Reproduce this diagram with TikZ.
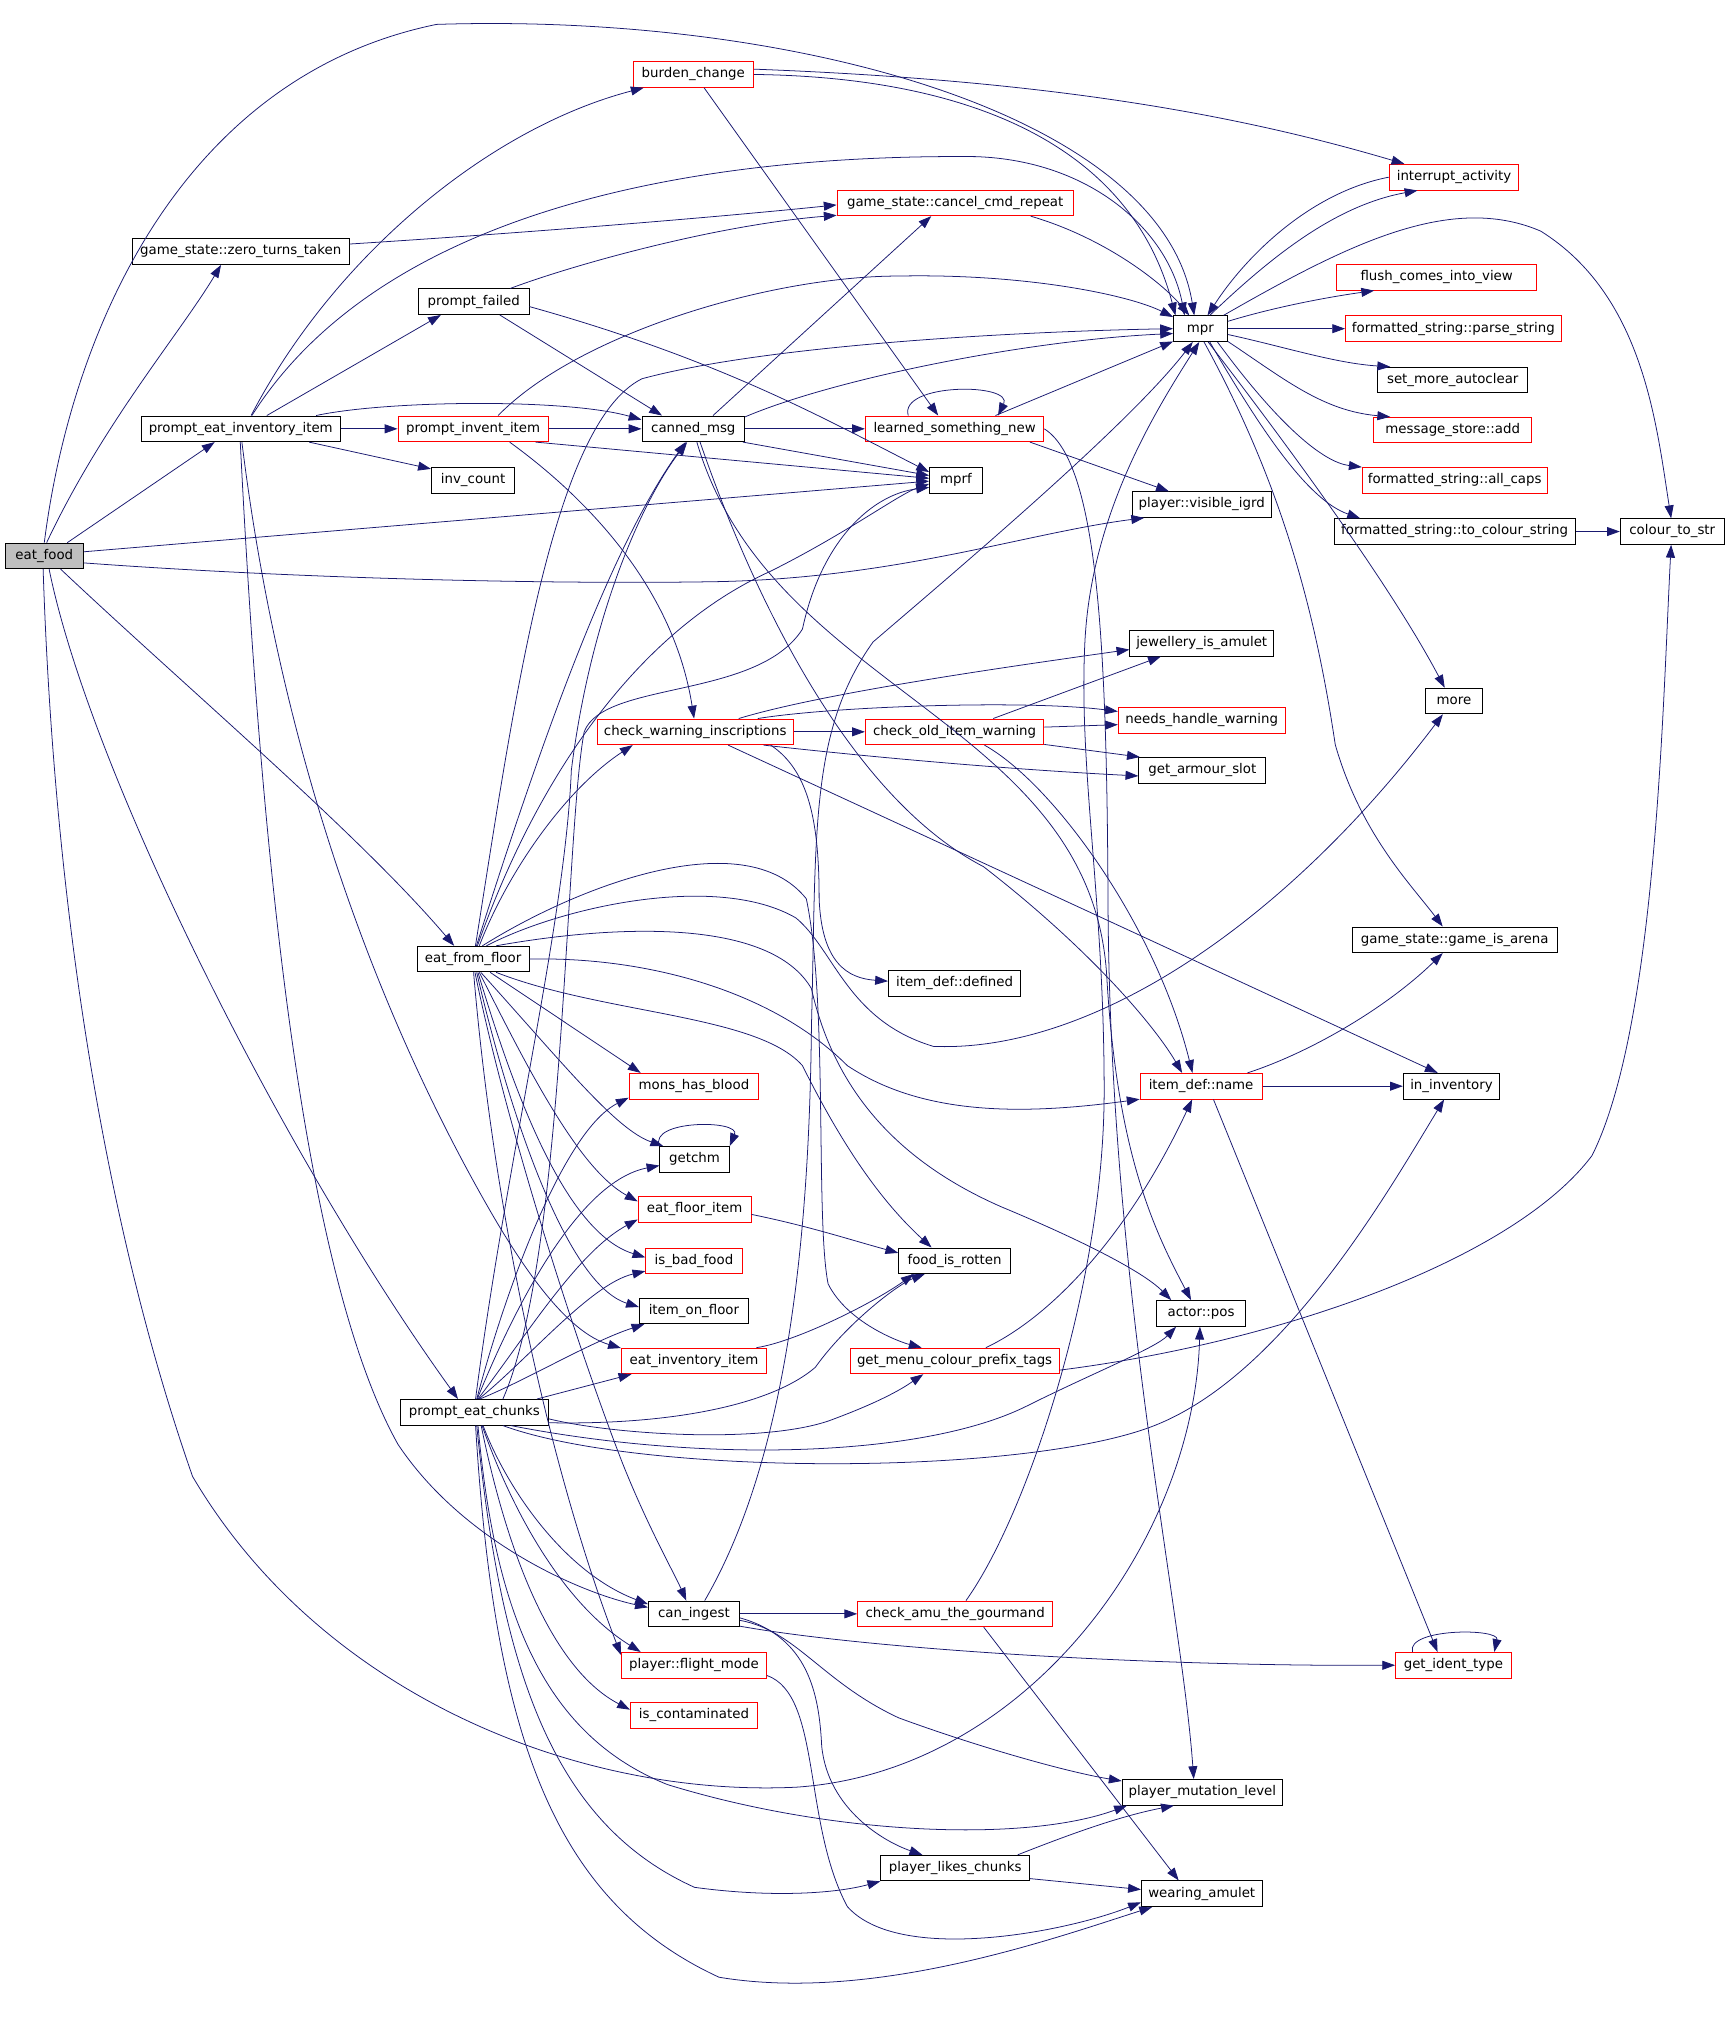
\documentclass[tikz,border=0pt]{standalone}
\usepackage{fontspec}
\setmainfont{DejaVu Sans}
\usetikzlibrary{arrows.meta}
\definecolor{edgeblue}{HTML}{191970}
\begin{document}
\begin{tikzpicture}[x=1pt,y=-1pt,
    fn/.style={draw=black,line width=0.7pt,minimum height=20pt,inner xsep=2pt,inner ysep=0pt,
      text height=7.6pt,text depth=2.4pt,font=\fontsize{10.4}{12}\selectfont},
    hot/.style={fn,draw=red},
    call/.style={draw=edgeblue,line width=0.6pt,-{Triangle[length=10pt,width=7pt]}}]
\useasboundingbox (0,0) rectangle (1350,1571);

\node[fn,fill=black!25,minimum width=61pt] (ef) at (34.5,433) {eat\_food};
\node[fn,minimum width=169pt] (zero) at (187.5,196) {game\_state::zero\_turns\_taken};
\node[fn,minimum width=155pt] (pein) at (187.5,334) {prompt\_eat\_inventory\_item};
\node[hot,minimum width=94pt] (burden) at (540,58) {burden\_change};
\node[fn,minimum width=86pt] (pfail) at (369,235) {prompt\_failed};
\node[hot,minimum width=117pt] (pinv) at (368.5,334) {prompt\_invent\_item};
\node[fn,minimum width=65pt] (invc) at (368.5,374) {inv\_count};
\node[fn,minimum width=80pt] (canned) at (540,334) {canned\_msg};
\node[hot,minimum width=184pt] (cancel) at (744,158) {game\_state::cancel\_cmd\_repeat};
\node[hot,minimum width=139pt] (learned) at (743.5,334) {learned\_something\_new};
\node[fn,minimum width=41pt] (mprf) at (744.5,374) {mprf};
\node[fn,minimum width=42pt] (mpr) at (935,256) {mpr};
\node[hot,minimum width=101pt] (intr) at (1132.5,138) {interrupt\_activity};
\node[hot,minimum width=156pt] (flush) at (1119,216) {flush\_comes\_into\_view};
\node[hot,minimum width=168pt] (parse) at (1132,256) {formatted\_string::parse\_string};
\node[fn,minimum width=117pt] (setmore) at (1131.5,296) {set\_more\_autoclear};
\node[hot,minimum width=123pt] (msgadd) at (1131.5,335) {message\_store::add};
\node[hot,minimum width=144pt] (allcaps) at (1133,374) {formatted\_string::all\_caps};
\node[fn,minimum width=188pt] (tocol) at (1133,414) {formatted\_string::to\_colour\_string};
\node[fn,minimum width=81pt] (col) at (1302.5,414) {colour\_to\_str};
\node[fn,minimum width=108pt] (igrd) at (936,393) {player::visible\_igrd};
\node[fn,minimum width=112pt] (jewel) at (936,501) {jewellery\_is\_amulet};
\node[fn,minimum width=45pt] (more) at (1132.5,546) {more};
\node[hot,minimum width=130pt] (needs) at (936,561) {needs\_handle\_warning};
\node[hot,minimum width=153pt] (cwi) at (541.5,570) {check\_warning\_inscriptions};
\node[hot,minimum width=139pt] (cold) at (743.5,570) {check\_old\_item\_warning};
\node[fn,minimum width=99pt] (armour) at (936.5,600) {get\_armour\_slot};
\node[fn,minimum width=87pt] (eff) at (368.5,747) {eat\_from\_floor};
\node[fn,minimum width=103pt] (defined) at (743.5,766) {item\_def::defined};
\node[fn,minimum width=160pt] (arena) at (1133,732) {game\_state::game\_is\_arena};
\node[hot,minimum width=95pt] (iname) at (935.5,846) {item\_def::name};
\node[fn,minimum width=75pt] (ininv) at (1130.5,846) {in\_inventory};
\node[hot,minimum width=101pt] (blood) at (540.5,846) {mons\_has\_blood};
\node[fn,minimum width=54pt] (getchm) at (541,903) {getchm};
\node[hot,minimum width=88pt] (efi) at (541,942) {eat\_floor\_item};
\node[fn,minimum width=87pt] (rotten) at (743.5,982) {food\_is\_rotten};
\node[hot,minimum width=75pt] (badfood) at (540.5,982) {is\_bad\_food};
\node[fn,minimum width=85pt] (onfloor) at (540.5,1021) {item\_on\_floor};
\node[fn,minimum width=69pt] (pos) at (935.5,1023) {actor::pos};
\node[hot,minimum width=113pt] (eii) at (540.5,1060) {eat\_inventory\_item};
\node[hot,minimum width=163pt] (prefix) at (743.5,1060) {get\_menu\_colour\_prefix\_tags};
\node[fn,minimum width=115pt] (pec) at (369.5,1100) {prompt\_eat\_chunks};
\node[fn,minimum width=71pt] (ingest) at (540.5,1257) {can\_ingest};
\node[hot,minimum width=152pt] (gourmand) at (744,1257) {check\_amu\_the\_gourmand};
\node[hot,minimum width=90pt] (ident) at (1132,1297) {get\_ident\_type};
\node[hot,minimum width=113pt] (flight) at (540.5,1297) {player::flight\_mode};
\node[hot,minimum width=99pt] (contam) at (540.5,1336) {is\_contaminated};
\node[fn,minimum width=125pt] (mutlvl) at (936.5,1396) {player\_mutation\_level};
\node[fn,minimum width=116pt] (likes) at (744,1455) {player\_likes\_chunks};
\node[fn,minimum width=94pt] (amulet) at (936,1475) {wearing\_amulet};

% eat_food
\draw[call] (ef.north) .. controls (55,260) and (140,60) .. (340,19) .. controls (620,10) and (905,90) .. (mpr.115);
\draw[call] (ef.80) .. controls (80,330) and (140,260) .. (zero.214);
\draw[call] (ef.30) -- (pein.207);
\draw[call] (ef.6) -- (mprf.182);
\draw[call] (ef.350) .. controls (250,452) and (450,455) .. (560,453) .. controls (700,450) and (800,415) .. (igrd.193);
\draw[call] (ef.321) .. controls (150,540) and (280,650) .. (eff.145);
\draw[call] (ef.290) .. controls (70,600) and (220,900) .. (pec.141);
\draw[call] (ef.265) .. controls (42,700) and (80,950) .. (150,1150) .. controls (250,1320) and (450,1400) .. (620,1392) .. controls (800,1380) and (930,1200) .. (pos.265);

% prompt_eat_inventory_item
\draw[call] (pein.east) -- (pinv.west);
\draw[call] (pein.52) .. controls (260,200) and (380,100) .. (burden.195);
\draw[call] (pein.50) .. controls (300,160) and (550,120) .. (760,122) .. controls (850,125) and (910,180) .. (mpr.140);
\draw[call] (pein.27) -- (pfail.202);
\draw[call] (pein.10) .. controls (300,312) and (440,310) .. (canned.170);
\draw[call] (pein.349) -- (invc.165);
\draw[call] (pein.268) .. controls (205,700) and (240,1000) .. (310,1125) .. controls (360,1200) and (450,1240) .. (ingest.172);
\draw[call] (pein.275) .. controls (220,600) and (300,800) .. (380,940) .. controls (420,1010) and (450,1040) .. (eii.170);

% burden_change
\draw[call] (burden.east) .. controls (750,60) and (880,110) .. (mpr.152);
\draw[call] (burden.5) .. controls (800,62) and (950,85) .. (intr.165);
\draw[call] (burden.309) -- (learned.141);

% prompt_failed, zero_turns_taken
\draw[call] (pfail.20) .. controls (450,205) and (560,175) .. (cancel.186);
\draw[call] (pfail.333) -- (canned.157);
\draw[call] (pfail.355) .. controls (560,280) and (640,325) .. (mprf.163);
\draw[call] (zero.4) .. controls (400,182) and (550,170) .. (cancel.181);

% prompt_invent_item
\draw[call] (pinv.east) -- (canned.west);
\draw[call] (pinv.28) .. controls (450,260) and (600,215) .. (700,215) .. controls (800,213) and (880,230) .. (mpr.157);
\draw[call] (pinv.348) -- (mprf.176);
\draw[call] (pinv.340) .. controls (460,390) and (525,460) .. (cwi.95);

% canned_msg
\draw[call] (canned.east) -- (learned.west);
\draw[call] (canned.13) .. controls (650,295) and (800,265) .. (mpr.190);
\draw[call] (canned.34) -- (cancel.209);
\draw[call] (canned.345) -- (mprf.170);
\draw[call] (canned.297) .. controls (585,460) and (660,620) .. (766,675) .. controls (850,740) and (900,800) .. (iname.145);
\draw[call] (canned.285) .. controls (600,540) and (850,560) .. (862,760) .. controls (870,900) and (900,960) .. (pos.127);
\draw[call] (cancel.350) .. controls (860,185) and (905,220) .. (mpr.130);

% learned_something_new
\draw[call] (learned.164) .. controls (700,298) and (790,298) .. (learned.17);
\draw[call] (learned.18) -- (mpr.205);
\draw[call] (learned.350) -- (igrd.158);
\draw[call] (learned.east) .. controls (855,360) and (862,500) .. (863,700) .. controls (864,1000) and (920,1250) .. (mutlvl.123);

% mpr
\draw[call] (mpr.15) .. controls (990,240) and (1030,232) .. (flush.192);
\draw[call] (mpr.east) -- (parse.west);
\draw[call] (mpr.348) .. controls (1000,270) and (1040,283) .. (setmore.168);
\draw[call] (mpr.335) .. controls (1000,295) and (1030,320) .. (msgadd.168);
\draw[call] (mpr.322) .. controls (995,330) and (1030,360) .. (allcaps.172);
\draw[call] (mpr.305) .. controls (985,340) and (1020,390) .. (tocol.172);
\draw[call] (mpr.300) .. controls (990,330) and (1080,450) .. (more.125);
\draw[call] (mpr.285) .. controls (1000,380) and (1025,480) .. (1040,580) .. controls (1060,650) and (1100,690) .. (arena.132);
\draw[call] (mpr.30) .. controls (1050,190) and (1130,150) .. (1200,180) .. controls (1280,230) and (1290,330) .. (col.95);
\draw[call] (mpr.55) .. controls (990,200) and (1040,160) .. (intr.200);
\draw[call] (intr.west) .. controls (1020,150) and (970,200) .. (mpr.62);
\draw[call] (tocol.east) -- (col.west);

% check_warning_inscriptions, check_old_item_warning
\draw[call] (cwi.east) -- (cold.west);
\draw[call] (cwi.17) .. controls (640,540) and (780,520) .. (jewel.185);
\draw[call] (cwi.12) .. controls (650,550) and (800,545) .. (needs.174);
\draw[call] (cwi.349) .. controls (700,592) and (800,600) .. (armour.185);
\draw[call] (cwi.338) -- (ininv.136);
\draw[call] (cwi.350) .. controls (630,600) and (638,640) .. (638,700) .. controls (640,750) and (660,762) .. (defined.178);
\draw[call] (cold.19) -- (jewel.198);
\draw[call] (cold.3) -- (needs.183);
\draw[call] (cold.352) -- (armour.168);
\draw[call] (cold.336) .. controls (820,610) and (900,720) .. (iname.123);

% eat_from_floor
\draw[call] (eff.80) .. controls (400,550) and (430,330) .. (500,295) .. controls (600,268) and (800,258) .. (mpr.180);
\draw[call] (eff.76) .. controls (430,550) and (480,420) .. (canned.240);
\draw[call] (eff.72) .. controls (420,600) and (500,490) .. (600,445) .. controls (660,415) and (700,385) .. (mprf.188);
\draw[call] (eff.65) .. controls (395,680) and (440,615) .. (cwi.192);
\draw[call] (eff.45) .. controls (440,705) and (560,680) .. (620,715) .. controls (650,740) and (660,795) .. (727,815) .. controls (850,820) and (1000,720) .. (more.230);
\draw[call] (eff.55) .. controls (450,690) and (580,640) .. (628,700) .. controls (645,780) and (635,950) .. (645,1000) .. controls (660,1030) and (700,1045) .. (prefix.158);
\draw[call] (eff.30) .. controls (480,720) and (600,715) .. (632,770) .. controls (650,850) and (700,905) .. (780,940) .. controls (840,965) and (890,990) .. (pos.156);
\draw[call] (eff.east) .. controls (500,745) and (600,770) .. (660,830) .. controls (720,870) and (800,868) .. (iname.192);
\draw[call] (eff.330) .. controls (470,790) and (590,790) .. (625,830) .. controls (650,880) and (680,930) .. (rotten.150);
\draw[call] (eff.322) -- (blood.166);
\draw[call] (eff.300) .. controls (440,830) and (480,880) .. (getchm.157);
\draw[call] (eff.295) .. controls (410,830) and (450,910) .. (efi.172);
\draw[call] (eff.290) .. controls (400,850) and (440,960) .. (badfood.176);
\draw[call] (eff.285) .. controls (395,860) and (440,1000) .. (onfloor.176);
\draw[call] (eff.278) .. controls (395,880) and (450,1050) .. (485,1140) .. controls (505,1190) and (525,1225) .. (ingest.120);
\draw[call] (eff.272) .. controls (385,950) and (430,1150) .. (flight.172);

% prompt_eat_chunks
\draw[call] (pec.85) .. controls (395,900) and (440,720) .. (445,600) .. controls (460,480) and (500,390) .. (canned.245);
\draw[call] (pec.25) .. controls (440,980) and (440,650) .. (455,570) .. controls (470,530) and (590,545) .. (625,490) .. controls (640,420) and (680,385) .. (mprf.195);
\draw[call] (pec.80) .. controls (395,1000) and (440,880) .. (blood.190);
\draw[call] (pec.78) .. controls (400,1020) and (450,920) .. (getchm.190);
\draw[call] (pec.75) .. controls (410,1040) and (450,975) .. (efi.190);
\draw[call] (pec.72) .. controls (410,1060) and (460,1000) .. (badfood.192);
\draw[call] (pec.68) .. controls (410,1075) and (460,1045) .. (onfloor.195);
\draw[call] (pec.12) -- (eii.192);
\draw[call] (pec.303) .. controls (395,1160) and (440,1225) .. (ingest.168);
\draw[call] (pec.300) .. controls (400,1180) and (440,1250) .. (flight.166);
\draw[call] (pec.297) .. controls (395,1210) and (430,1300) .. (contam.175);
\draw[call] (pec.285) .. controls (385,1250) and (420,1350) .. (520,1390) .. controls (650,1430) and (800,1435) .. (mutlvl.190);
\draw[call] (pec.280) .. controls (390,1300) and (430,1420) .. (541,1470) .. controls (600,1478) and (650,1475) .. (likes.190);
\draw[call] (pec.275) .. controls (385,1350) and (430,1480) .. (560,1540) .. controls (680,1560) and (820,1510) .. (amulet.195);
\draw[call] (pec.352) .. controls (520,1110) and (600,1095) .. (635,1065) .. controls (660,1030) and (700,1000) .. (rotten.204);
\draw[call] (pec.355) .. controls (480,1118) and (600,1125) .. (650,1105) .. controls (690,1090) and (705,1080) .. (prefix.203);
\draw[call] (pec.340) .. controls (550,1140) and (720,1135) .. (800,1095) .. controls (850,1070) and (900,1050) .. (pos.208);
\draw[call] (pec.335) .. controls (500,1150) and (800,1150) .. (900,1110) .. controls (1000,1070) and (1080,930) .. (ininv.241);

% can_ingest, check_amu_the_gourmand
\draw[call] (ingest.east) -- (gourmand.west);
\draw[call] (ingest.51) .. controls (605,1150) and (630,1000) .. (632,800) .. controls (636,650) and (630,570) .. (680,500) .. controls (750,440) and (880,330) .. (mpr.240);
\draw[call] (ingest.345) .. controls (680,1285) and (900,1298) .. (ident.west);
\draw[call] (ingest.352) .. controls (620,1270) and (640,1310) .. (700,1338) .. controls (760,1360) and (830,1380) .. (mutlvl.172);
\draw[call] (ingest.355) .. controls (630,1275) and (638,1320) .. (640,1360) .. controls (645,1410) and (690,1435) .. (likes.158);
\draw[call] (gourmand.51) .. controls (800,1180) and (860,1000) .. (860,850) .. controls (860,700) and (840,600) .. (845,500) .. controls (850,400) and (900,320) .. (mpr.265);
\draw[call] (gourmand.335) -- (amulet.150);

% item_def::name, get_menu_colour_prefix_tags and the rest
\draw[call] (iname.east) -- (ininv.west);
\draw[call] (iname.16) .. controls (1020,820) and (1080,785) .. (arena.228);
\draw[call] (iname.313) -- (ident.140);
\draw[call] (ident.162) .. controls (1095,1268) and (1168,1268) .. (ident.18);
\draw[call] (getchm.north west) .. controls (505,872) and (577,872) .. (getchm.north east);
\draw[call] (prefix.23) .. controls (820,1025) and (880,960) .. (iname.236);
\draw[call] (prefix.355) .. controls (1000,1045) and (1180,980) .. (1240,900) .. controls (1290,800) and (1295,550) .. (col.265);
\draw[call] (efi.355) .. controls (630,955) and (660,965) .. (rotten.172);
\draw[call] (eii.12) .. controls (620,1045) and (680,1015) .. (rotten.198);
\draw[call] (flight.352) .. controls (640,1320) and (625,1420) .. (660,1485) .. controls (700,1530) and (830,1505) .. (amulet.188);
\draw[call] (likes.12) .. controls (830,1430) and (870,1415) .. (mutlvl.205);
\draw[call] (likes.352) -- (amulet.176);
\end{tikzpicture}
\end{document}
